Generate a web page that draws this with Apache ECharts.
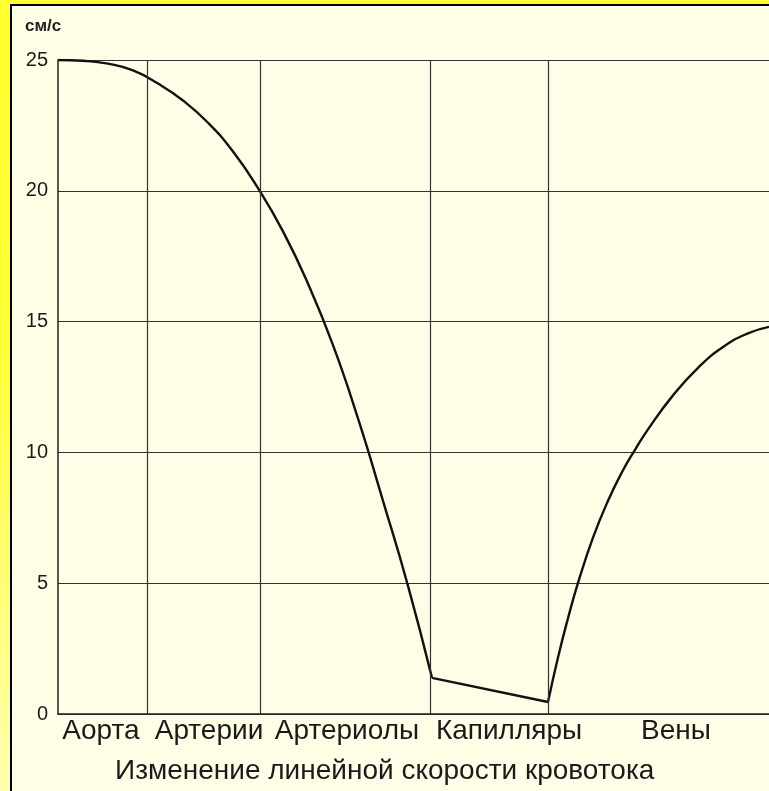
<!DOCTYPE html>
<html><head><meta charset="utf-8">
<script src="https://cdn.jsdelivr.net/npm/echarts@6/dist/echarts.min.js"></script>
<style>
html,body{margin:0;padding:0;width:769px;height:791px;overflow:hidden;}
#frame{position:absolute;left:0;top:0;width:769px;height:791px;background:linear-gradient(to bottom,#ffff2e 0%,#ffff38 45%,#ffffb0 100%);}
#inner{position:absolute;left:10px;top:4px;width:757px;height:785px;background:#fefee6;border-left:2px solid #000;border-top:2px solid #000;}
#chart{position:absolute;left:0;top:0;width:769px;height:791px;}
</style></head>
<body>
<div id="frame"></div><div id="inner"></div><div id="chart"></div>
<script>
// Section names and where their labels sit on the position scale
const sectionNames = ['Аорта', 'Артерии', 'Артериолы', 'Капилляры', 'Вены'];
const sectionLabelPos = [43, 151, 289, 451, 618];
// Vertical grid lines (section boundaries) on the position scale
const sectionBounds = [89, 202, 372, 490];
// Velocity, cm/s — arteries part (Aorta -> arterioles)
const arteryPos = [0, 25, 50, 75, 100, 125, 150, 175, 200, 225, 250, 275, 300, 325, 350, 374];
const arteryVel = [25, 24.97, 24.86, 24.6, 24.1, 23.45, 22.6, 21.5, 20.1, 18.45, 16.45, 14.1, 11.3, 8.15, 4.9, 1.38];
// Capillaries
const capPos = [374, 490];
const capVel = [1.38, 0.46];
// Veins
const veinPos = [490, 500, 510, 520, 535, 550, 565, 577, 590, 615, 640, 665, 690, 711];
const veinVel = [0.46, 2.16, 3.66, 5.01, 6.74, 8.15, 9.32, 10.1, 10.88, 12.18, 13.23, 14.03, 14.55, 14.8];
const yTicks = [0, 5, 10, 15, 20, 25];
const yUnit = 'см/с';
const caption = 'Изменение линейной скорости кровотока';

const zip = (a, b) => a.map((x, i) => [x, b[i]]);
const sans = "'Liberation Sans',Arial,sans-serif";
const lineStyle = { color: '#111', width: 2.4 };

const chart = echarts.init(document.getElementById('chart'), null, { renderer: 'canvas' });
chart.setOption({
  backgroundColor: 'transparent',
  animation: false,
  title: [
    { text: yUnit, left: 20, top: 13, textStyle: { fontFamily: sans, fontSize: 17, fontWeight: 'bold', color: '#222' } },
    { text: caption, left: 110, top: 752, textStyle: { fontFamily: sans, fontSize: 28, fontWeight: 'normal', color: '#1a1a1a' } }
  ],
  grid: { left: 58, right: 0, top: 60, bottom: 77, containLabel: false },
  xAxis: {
    type: 'value', min: 0, max: 711,
    axisLine: { show: true, lineStyle: { color: '#222', width: 1.5 } },
    axisTick: { show: false },
    splitLine: { show: false },
    axisLabel: {
      customValues: sectionLabelPos,
      formatter: v => sectionNames[sectionLabelPos.indexOf(v)] || '',
      fontFamily: sans, fontSize: 28, color: '#1a1a1a', margin: 3
    }
  },
  yAxis: {
    type: 'value', min: yTicks[0], max: yTicks[yTicks.length - 1], interval: 5,
    axisLine: { show: true, lineStyle: { color: '#222', width: 1.5 } },
    axisTick: { show: false },
    splitLine: { show: true, lineStyle: { color: '#333', width: 1.2 } },
    axisLabel: { fontFamily: sans, fontSize: 20, color: '#1a1a1a', margin: 10, padding: [0, 0, 10, 0] }
  },
  series: [
    { type: 'line', data: zip(arteryPos, arteryVel), smooth: 0.5, showSymbol: false, lineStyle,
      markLine: { silent: true, symbol: 'none', label: { show: false }, lineStyle: { color: '#333', width: 1.2, type: 'solid' },
        data: sectionBounds.map(x => ({ xAxis: x })) } },
    { type: 'line', data: zip(capPos, capVel), showSymbol: false, lineStyle },
    { type: 'line', data: zip(veinPos, veinVel), smooth: 0.5, showSymbol: false, lineStyle }
  ]
});
</script>
</body></html>
